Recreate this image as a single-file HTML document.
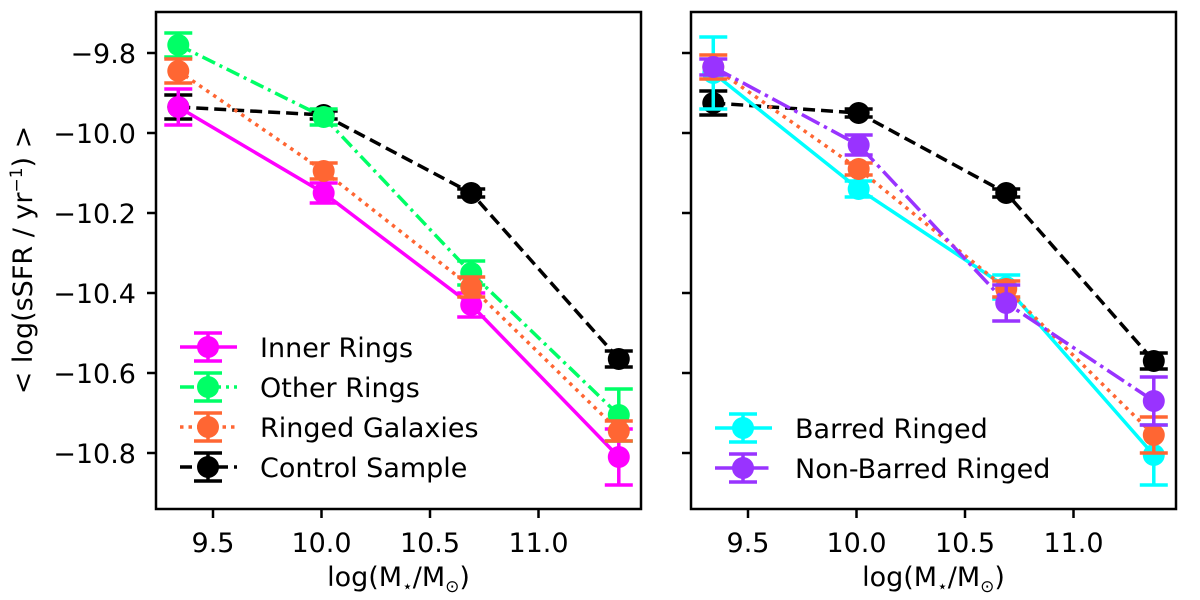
<!DOCTYPE html>
<html><head><meta charset="utf-8"><style>
body{margin:0;background:#fff}
svg{display:block;font-family:"DejaVu Sans","Liberation Sans",sans-serif}
</style></head><body>
<svg id="c" width="1200" height="600"></svg>
<script>
const xs=[9.34,10.01,10.69,11.37];
const xTicks=[9.5,10.0,10.5,11.0];
const yTicks=[-9.8,-10.0,-10.2,-10.4,-10.6,-10.8];
const innerY=[-9.935,-10.15,-10.43,-10.81];const innerE=[0.045,0.025,0.03,0.07];
const otherY=[-9.78,-9.96,-10.35,-10.705];const otherE=[0.03,0.02,0.03,0.065];
const ringY=[-9.845,-10.095,-10.385,-10.745];const ringE=[0.03,0.02,0.025,0.025];
const ctrlY=[-9.935,-9.955,-10.15,-10.565];const ctrlE=[0.03,0.01,0.01,0.02];
const barY=[-9.85,-10.14,-10.385,-10.805];const barE=[0.09,0.02,0.03,0.075];
const nbarY=[-9.835,-10.03,-10.425,-10.67];const nbarE=[0.02,0.025,0.045,0.06];
const ring2Y=[-9.835,-10.09,-10.39,-10.755];const ring2E=[0.03,0.015,0.02,0.045];
const ctrl2Y=[-9.925,-9.95,-10.15,-10.57];const ctrl2E=[0.03,0.01,0.01,0.02];
const NS="http://www.w3.org/2000/svg";
const svg=document.getElementById('c');
function el(t,a,p){const e=document.createElementNS(NS,t);for(const k in a)e.setAttribute(k,a[k]);(p||svg).appendChild(e);return e;}
const T=12,B=509,W=485,LW=3.5,FS=27;
function yS(v){return 133-(v+10)*400;}
function panel(left,name,series,legend,legY){
  const g=el('g',{});
  
  
  const xS=v=>left+57+(v-9.5)*217;
  series.forEach(s=>{
    const sg=el('g',{},g);
    
    
    const pts=xs.map((x,i)=>xS(x)+','+yS(s.y[i])).join(' ');
    el('polyline',{points:pts,fill:'none',stroke:s.c,'stroke-width':LW,'stroke-dasharray':s.d||'none'},sg);
    xs.forEach((x,i)=>{
      const cx=xS(x),y1=yS(s.y[i]+s.e[i]),y2=yS(s.y[i]-s.e[i]);
      el('line',{x1:cx,x2:cx,y1:y1,y2:y2,stroke:s.c,'stroke-width':LW},sg);
      el('line',{x1:cx-14,x2:cx+14,y1:y1,y2:y1,stroke:s.c,'stroke-width':LW},sg);
      el('line',{x1:cx-14,x2:cx+14,y1:y2,y2:y2,stroke:s.c,'stroke-width':LW},sg);
      const m=el('circle',{cx:cx,cy:yS(s.y[i]),r:11,fill:s.c},sg);
      
      
    });
  });
  el('rect',{x:left,y:T,width:W,height:B-T,fill:'none',stroke:'#000','stroke-width':2.5},g);
  xTicks.forEach(v=>{const x=xS(v);
    el('line',{x1:x,x2:x,y1:B,y2:B+9,stroke:'#000','stroke-width':2.5},g);
    const t=el('text',{x:x,y:B+43,'font-size':FS,'text-anchor':'middle'},g);t.textContent=v.toFixed(1);
    
    });
  yTicks.forEach(v=>{const y=yS(v);
    el('line',{x1:left-9,x2:left,y1:y,y2:y,stroke:'#000','stroke-width':2.5},g);
    if(left<300){const t=el('text',{x:left-20,y:y+10,'font-size':FS,'text-anchor':'end'},g);t.textContent='\u2212'+(-v).toFixed(1);
      
      }});
  const xl=el('text',{x:left+W/2,y:586,'font-size':FS,'text-anchor':'middle'},g);
  xl.innerHTML='log(M<tspan font-size="17" dy="6">\u22c6</tspan><tspan dy="-6">/M</tspan><tspan font-size="17" dy="6">\u2299</tspan><tspan dy="-6">)</tspan>';
  
  
  legend.forEach((s,i)=>{
    const y=legY+i*40,lg=el('g',{},g);
    
    
    const hx=left+24;
    el('line',{x1:hx,x2:hx+57,y1:y,y2:y,stroke:s.c,'stroke-width':LW,'stroke-dasharray':s.d||'none'},lg);
    el('line',{x1:hx+28,x2:hx+28,y1:y-14,y2:y+14,stroke:s.c,'stroke-width':LW},lg);
    el('line',{x1:hx+14,x2:hx+42,y1:y-14,y2:y-14,stroke:s.c,'stroke-width':LW},lg);
    el('line',{x1:hx+14,x2:hx+42,y1:y+14,y2:y+14,stroke:s.c,'stroke-width':LW},lg);
    el('circle',{cx:hx+28,cy:y,r:11,fill:s.c},lg);
    const t=el('text',{x:left+104,y:y+10,'font-size':FS},lg);t.textContent=s.l;
  });
}
const inner={n:'inner-rings-series',l:'Inner Rings',c:'#ff00ff',y:innerY,e:innerE};
const other={n:'other-rings-series',l:'Other Rings',c:'#00ff66',y:otherY,e:otherE,d:'14,5,3,5'};
const ring={n:'ringed-galaxies-series',l:'Ringed Galaxies',c:'#ff6633',y:ringY,e:ringE,d:'3.5,5'};
const ctrl={n:'control-sample-series',l:'Control Sample',c:'#000',y:ctrlY,e:ctrlE,d:'12,6'};
panel(156,'left-panel',[ctrl,inner,other,ring],[inner,other,ring,ctrl],347);
const bar={n:'barred-ringed-series',l:'Barred Ringed',c:'#00ffff',y:barY,e:barE};
const nbar={n:'non-barred-ringed-series',l:'Non-Barred Ringed',c:'#9933ff',y:nbarY,e:nbarE,d:'20,5,3.5,5'};
const ring2={n:'ringed-galaxies-series-right',l:'Ringed',c:'#ff6633',y:ring2Y,e:ring2E,d:'3.5,5'};
const ctrl2={n:'control-sample-series-right',l:'Control',c:'#000',y:ctrl2Y,e:ctrl2E,d:'12,6'};
panel(691,'right-panel',[ctrl2,bar,ring2,nbar],[bar,nbar],428);
const yl=el('text',{x:0,y:0,'font-size':FS,'text-anchor':'middle',transform:'translate(32,260) rotate(-90)'});
yl.innerHTML='&lt; log(sSFR / yr<tspan font-size="17" dy="-10">\u22121</tspan><tspan dy="10">) &gt;</tspan>';


</script>
</body></html>
